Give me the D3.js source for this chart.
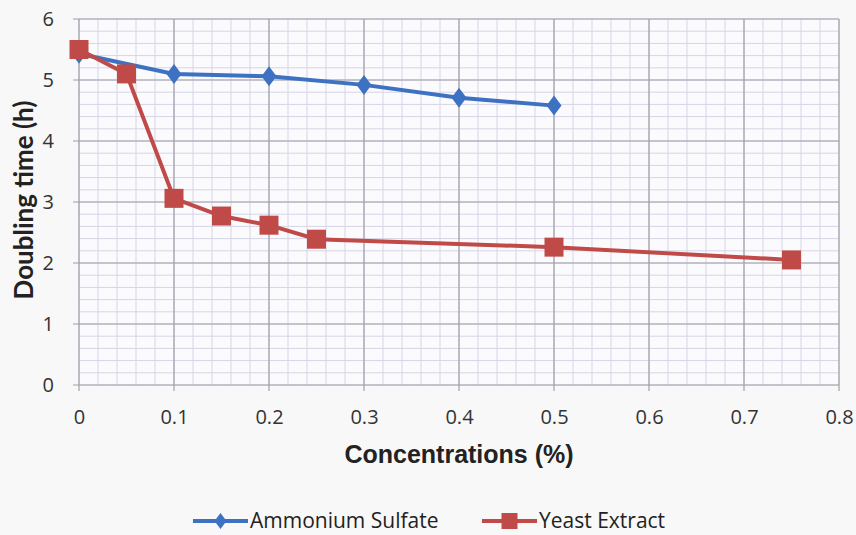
<!DOCTYPE html>
<html lang="en">
  <head>
    <meta charset="UTF-8" />
    <title>doubling time</title>
    <script src="https://cdn.jsdelivr.net/npm/d3@7/dist/d3.min.js"></script>
    <style>
      body { margin: 0; background: #f8f8f8; }
    </style>
  </head>
  <body>
    <div id="wrapper"></div>
    <script>
      const ammoniumX = [0, 0.1, 0.2, 0.3, 0.4, 0.5];
      const ammoniumY = [5.43, 5.1, 5.06, 4.92, 4.71, 4.58];
      const yeastX = [0, 0.05, 0.1, 0.15, 0.2, 0.25, 0.5, 0.75];
      const yeastY = [5.5, 5.1, 3.06, 2.77, 2.62, 2.39, 2.26, 2.05];
      const xTicks = [0, 0.1, 0.2, 0.3, 0.4, 0.5, 0.6, 0.7, 0.8];
      const yTicks = [0, 1, 2, 3, 4, 5, 6];

      const dimensions = {
        width: 856,
        height: 535,
        margin: { left: 79, right: 17, top: 19, bottom: 150 },
      };
      dimensions.boundedWidth = dimensions.width - dimensions.margin.left - dimensions.margin.right;
      dimensions.boundedHeight = dimensions.height - dimensions.margin.top - dimensions.margin.bottom;

      const blue = "#3d71c2";
      const red = "#bf4a48";

      const svg = d3.select("#wrapper").append("svg")
        .attr("width", dimensions.width)
        .attr("height", dimensions.height);

      const bounds = svg.append("g")
        .attr("transform", `translate(${dimensions.margin.left},${dimensions.margin.top})`);

      const xScale = d3.scaleLinear().domain([0, 0.8]).range([0, dimensions.boundedWidth]);
      const yScale = d3.scaleLinear().domain([0, 6]).range([dimensions.boundedHeight, 0]);

      bounds.append("rect")
        .attr("width", dimensions.boundedWidth)
        .attr("height", dimensions.boundedHeight)
        .attr("fill", "#fbfbfe");

      // minor grid
      const minorX = d3.range(0, 41).map(i => i * 0.02);
      const minorY = d3.range(0, 31).map(i => i * 0.2);
      bounds.append("g").selectAll("line").data(minorX).join("line")
        .attr("x1", d => xScale(d)).attr("x2", d => xScale(d))
        .attr("y1", 0).attr("y2", dimensions.boundedHeight)
        .attr("stroke", "#d6d4e6").attr("stroke-width", 1);
      bounds.append("g").selectAll("line").data(minorY).join("line")
        .attr("y1", d => yScale(d)).attr("y2", d => yScale(d))
        .attr("x1", 0).attr("x2", dimensions.boundedWidth)
        .attr("stroke", "#d6d4e6").attr("stroke-width", 1);

      // major grid
      bounds.append("g").selectAll("line").data(xTicks).join("line")
        .attr("x1", d => xScale(d)).attr("x2", d => xScale(d))
        .attr("y1", 0).attr("y2", dimensions.boundedHeight + 6)
        .attr("stroke", "#a0a0a8").attr("stroke-width", 1.2);
      bounds.append("g").selectAll("line").data(yTicks).join("line")
        .attr("y1", d => yScale(d)).attr("y2", d => yScale(d))
        .attr("x1", -6).attr("x2", dimensions.boundedWidth)
        .attr("stroke", "#a0a0a8").attr("stroke-width", 1.2);

      const xAxis = bounds.append("g")
        .attr("transform", `translate(0,${dimensions.boundedHeight})`)
        .call(d3.axisBottom(xScale).tickValues(xTicks).tickFormat(d3.format("")).tickSize(0).tickPadding(25));
      const yAxis = bounds.append("g")
        .call(d3.axisLeft(yScale).tickValues(yTicks).tickFormat(d3.format("d")).tickSize(0).tickPadding(25));
      [xAxis, yAxis].forEach(a => {
        a.select(".domain").remove();
        a.selectAll("text")
          .attr("fill", "#333")
          .style("font-family", "'Open Sans', sans-serif")
          .style("font-size", "20px");
      });

      const line = d3.line().x(d => xScale(d[0])).y(d => yScale(d[1]));
      const ammonium = ammoniumX.map((x, i) => [x, ammoniumY[i]]);
      const yeast = yeastX.map((x, i) => [x, yeastY[i]]);

      bounds.append("path").datum(ammonium)
        .attr("d", line).attr("fill", "none")
        .attr("stroke", blue).attr("stroke-width", 4);
      bounds.append("g").selectAll("path").data(ammonium).join("path")
        .attr("transform", d => `translate(${xScale(d[0])},${yScale(d[1])})`)
        .attr("d", "M0,-10L7.5,0L0,10L-7.5,0Z")
        .attr("fill", blue);

      bounds.append("path").datum(yeast)
        .attr("d", line).attr("fill", "none")
        .attr("stroke", red).attr("stroke-width", 4);
      bounds.append("g").selectAll("rect").data(yeast).join("rect")
        .attr("x", d => xScale(d[0]) - 9.5)
        .attr("y", d => yScale(d[1]) - 9.5)
        .attr("width", 19).attr("height", 19)
        .attr("fill", red);

      // axis titles
      svg.append("text")
        .attr("x", dimensions.margin.left + xScale(0.4))
        .attr("y", 463)
        .attr("text-anchor", "middle")
        .style("font-family", "Arial, 'Liberation Sans', sans-serif")
        .style("font-weight", "bold")
        .style("font-size", "25px")
        .attr("fill", "#222")
        .text("Concentrations (%)");
      svg.append("text")
        .attr("transform", `translate(33,${dimensions.margin.top + yScale(3) - 2}) rotate(-90)`)
        .attr("text-anchor", "middle")
        .style("font-family", "Lato, sans-serif")
        .style("font-weight", "bold")
        .style("font-size", "26px")
        .attr("fill", "#222")
        .text("Doubling time (h)");

      // legend
      const legend = svg.append("g").attr("transform", "translate(0,521)");
      const items = [
        { name: "Ammonium Sulfate", color: blue, x: 193, shape: "diamond" },
        { name: "Yeast Extract", color: red, x: 482, shape: "square" },
      ];
      items.forEach(it => {
        const g = legend.append("g").attr("transform", `translate(${it.x},0)`);
        g.append("line").attr("x1", 0).attr("x2", 55).attr("stroke", it.color).attr("stroke-width", 4);
        if (it.shape === "diamond") {
          g.append("path").attr("d", "M27.5,-8L33.5,0L27.5,8L21.5,0Z").attr("fill", it.color);
        } else {
          g.append("rect").attr("x", 19.5).attr("y", -8).attr("width", 16).attr("height", 16).attr("fill", it.color);
        }
        g.append("text").attr("x", 57).attr("y", 7)
          .style("font-family", "'Open Sans', sans-serif")
          .style("font-size", "21px")
          .attr("fill", "#222")
          .text(it.name);
      });
    </script>
  </body>
</html>
